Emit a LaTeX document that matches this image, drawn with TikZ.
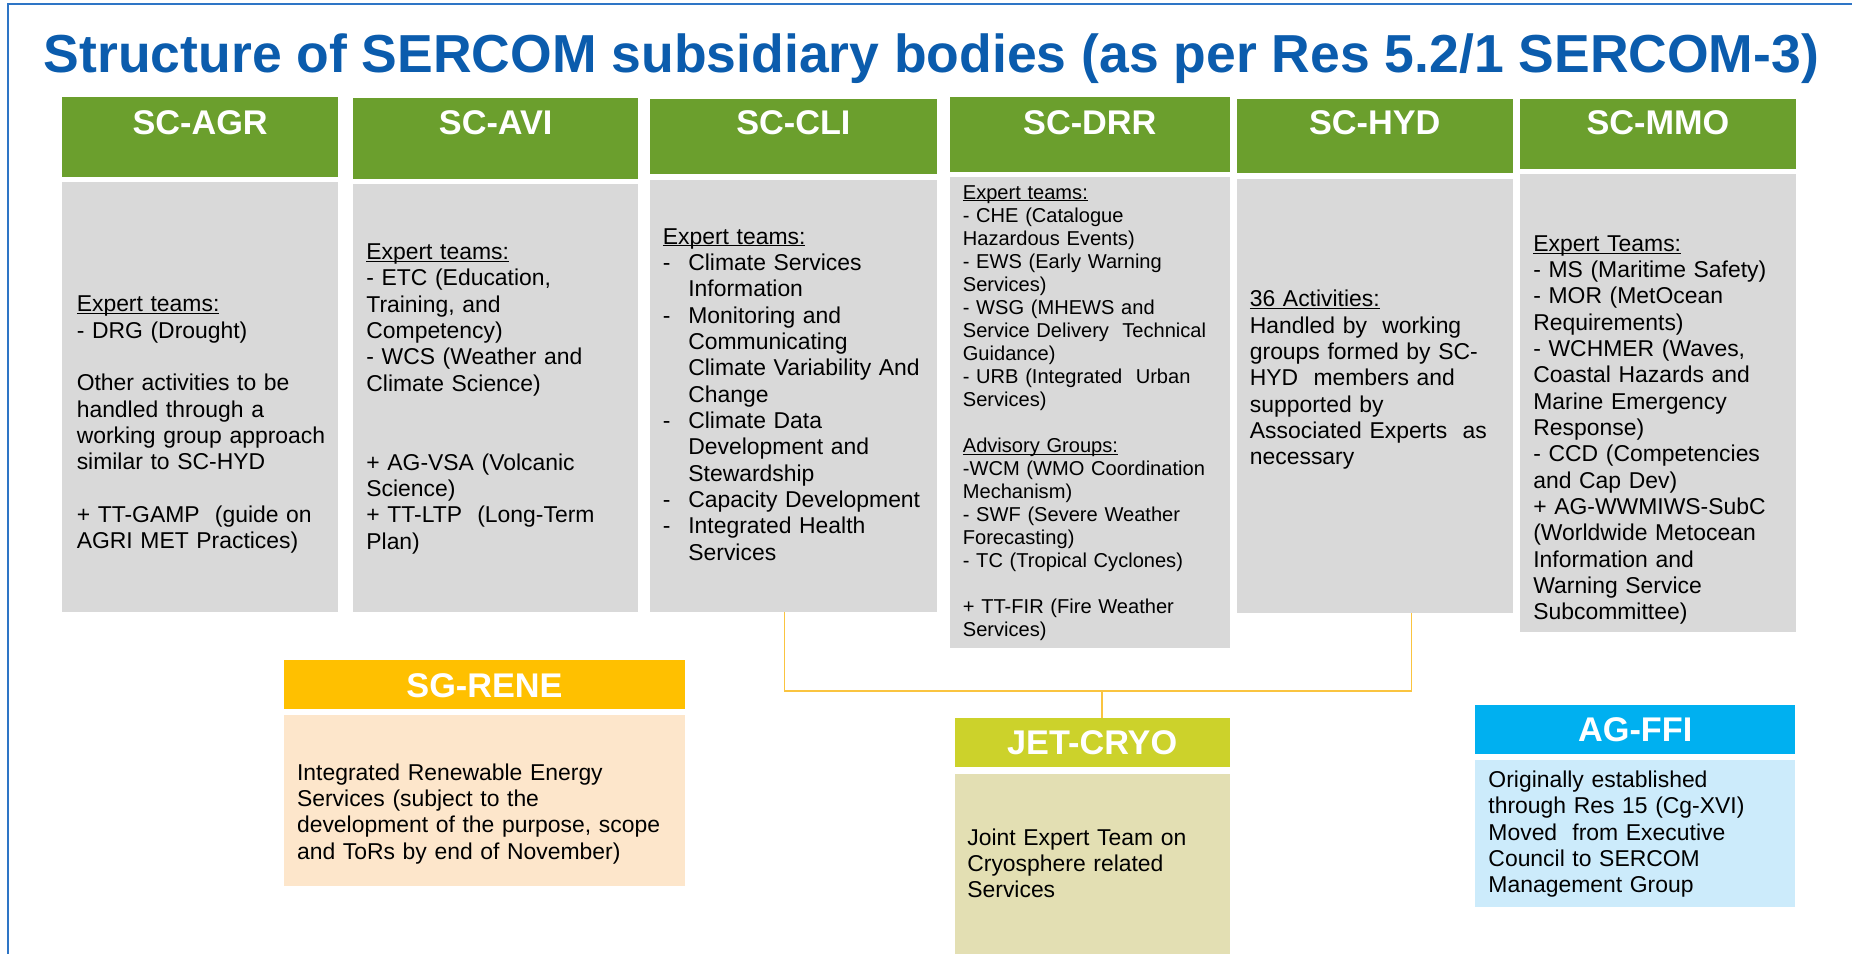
\documentclass[tikz,border=0pt]{standalone}
\usepackage{fontspec}
\setmainfont{Liberation Sans}
\definecolor{titleblue}{RGB}{11,92,173}
\definecolor{frameblue}{RGB}{46,117,198}
\definecolor{scgreen}{RGB}{107,159,45}
\definecolor{bodygrey}{RGB}{217,217,217}
\definecolor{renehead}{RGB}{255,192,0}
\definecolor{renebody}{RGB}{253,230,203}
\definecolor{cryohead}{RGB}{204,210,43}
\definecolor{cryobody}{RGB}{227,223,179}
\definecolor{ffihead}{RGB}{0,176,240}
\definecolor{ffibody}{RGB}{204,235,251}
\definecolor{connline}{RGB}{250,196,64}
\newcommand\ulx[1]{\underline{\smash{#1}}}
\newcommand\dashitem{\makebox[21.6pt][l]{-}}
\newcommand\cont{\hspace*{21.6pt}}
\tikzset{
  hdr/.style={anchor=north west, inner sep=0pt, text=white, font=\bfseries\fontsize{29}{29}\selectfont},
  bodybox/.style={anchor=north west, inner sep=0pt, fill=bodygrey},
  txt/.style={anchor=base west, inner sep=0pt, align=left, text width=420pt, font=\fontsize{19.4}{22.3}\selectfont},
  smalltxt/.style={txt, font=\fontsize{17}{19.5}\selectfont},
  conn/.style={draw=connline, line width=1.3pt}
}
\begin{document}
\begin{tikzpicture}[x=1pt,y=-1pt]
\useasboundingbox (0,0) rectangle (1568,807);
\fill[white] (0,0) rectangle (1568,807);
% frame
\draw[frameblue, line width=1.7pt] (6.8,810) -- (6.8,3.4) -- (1575,3.4);
% title
\node[anchor=base west, inner sep=0pt, text=titleblue, font=\bfseries\fontsize{45.3}{45.3}\selectfont] (title) at (37,61) {Structure of SERCOM subsidiary bodies (as per Res 5.2/1 SERCOM-3)};

% headers
\node[hdr, fill=scgreen, minimum width=233.5pt, text height=32pt, text depth=36pt] (agrH) at (52.5,82) {SC-AGR};
\node[hdr, fill=scgreen, minimum width=241pt, text height=31pt, text depth=37pt] (aviH) at (299,83) {SC-AVI};
\node[hdr, fill=scgreen, minimum width=243pt, text height=30pt, text depth=33pt] (cliH) at (550,84) {SC-CLI};
\node[hdr, fill=scgreen, minimum width=237pt, text height=32pt, text depth=31pt] (drrH) at (804,82) {SC-DRR};
\node[hdr, fill=scgreen, minimum width=233.5pt, text height=30pt, text depth=32pt] (hydH) at (1047,84) {SC-HYD};
\node[hdr, fill=scgreen, minimum width=233pt, text height=30pt, text depth=29pt] (mmoH) at (1287,84) {SC-MMO};

% bodies
\node[bodybox, minimum width=233.5pt, minimum height=364pt] (agrB) at (52.5,154) {};
\node[bodybox, minimum width=241pt, minimum height=362pt] (aviB) at (299,156) {};
\node[bodybox, minimum width=243pt, minimum height=366pt] (cliB) at (550,152) {};
\node[bodybox, minimum width=237pt, minimum height=398pt] (drrB) at (804,150) {};
\node[bodybox, minimum width=233.5pt, minimum height=368pt] (hydB) at (1047,151) {};
\node[bodybox, minimum width=233pt, minimum height=388pt] (mmoB) at (1287,147) {};

% body texts
\node[txt] (agrT) at (64.8,264) {\ulx{Expert teams:}\\
- DRG (Drought)\\[22.3pt]
Other activities to be\\
handled through a\\
working group approach\\
similar to SC-HYD\\[22.3pt]
+ TT-GAMP \ (guide on\\
AGRI MET Practices)};

\node[txt] (aviT) at (310,219.6) {\ulx{Expert teams:}\\
- ETC (Education,\\
Training, and\\
Competency)\\
- WCS (Weather and\\
Climate Science)\\[44.6pt]
+ AG-VSA (Volcanic\\
Science)\\
+ TT-LTP \ (Long-Term\\
Plan)};

\node[txt] (cliT) at (561,206.6) {\ulx{Expert teams:}\\
\dashitem Climate Services\\
\cont Information\\
\dashitem Monitoring and\\
\cont Communicating\\
\cont Climate Variability And\\
\cont Change\\
\dashitem Climate Data\\
\cont Development and\\
\cont Stewardship\\
\dashitem Capacity Development\\
\dashitem Integrated Health\\
\cont Services};

\node[smalltxt] (drrT) at (815,168.5) {\ulx{Expert teams:}\\
- CHE (Catalogue\\
Hazardous Events)\\
- EWS (Early Warning\\
Services)\\
- WSG (MHEWS and\\
Service Delivery \ Technical\\
Guidance)\\
- URB (Integrated \ Urban\\
Services)\\[19.5pt]
\ulx{Advisory Groups:}\\
-WCM (WMO Coordination\\
Mechanism)\\
- SWF (Severe Weather\\
Forecasting)\\
- TC (Tropical Cyclones)\\[19.5pt]
+ TT-FIR (Fire Weather\\
Services)};

\node[txt] (hydT) at (1058,259.7) {\ulx{36 Activities:}\\
Handled by \ working\\
groups formed by SC-\\
HYD \ members and\\
supported by\\
Associated Experts \ as\\
necessary};

\node[txt] (mmoT) at (1298,212.6) {\ulx{Expert Teams:}\\
- MS (Maritime Safety)\\
- MOR (MetOcean\\
Requirements)\\
- WCHMER (Waves,\\
Coastal Hazards and\\
Marine Emergency\\
Response)\\
- CCD (Competencies\\
and Cap Dev)\\
+ AG-WWMIWS-SubC\\
(Worldwide Metocean\\
Information and\\
Warning Service\\
Subcommittee)};

% lower groups
\node[hdr, fill=renehead, minimum width=340pt, text height=31pt, text depth=10pt] (reneH) at (240,559) {SG-RENE};
\node[bodybox, fill=renebody, minimum width=340pt, minimum height=145pt] (reneB) at (240,605) {};
\node[txt] (reneT) at (251.3,660.5) {Integrated Renewable Energy\\
Services (subject to the\\
development of the purpose, scope\\
and ToRs by end of November)};

\node[hdr, fill=cryohead, minimum width=233pt, text height=31pt, text depth=10pt] (cryoH) at (808,608) {JET-CRYO};
\node[bodybox, fill=cryobody, minimum width=233pt, minimum height=165pt] (cryoB) at (808,655) {};
\node[txt] (cryoT) at (818.8,715.5) {Joint Expert Team on\\
Cryosphere related\\
Services};

\node[hdr, fill=ffihead, minimum width=270.5pt, text height=31pt, text depth=10pt] (ffiH) at (1249,597) {AG-FFI};
\node[bodybox, fill=ffibody, minimum width=270.5pt, minimum height=125pt] (ffiB) at (1249,643) {};
\node[txt] (ffiT) at (1260,666.7) {Originally established\\
through Res 15 (Cg-XVI)\\
Moved \ from Executive\\
Council to SERCOM\\
Management Group};

% connectors
\coordinate (cliFoot) at (664,518);
\coordinate (hydFoot) at (1195,519);
\coordinate (hub) at (933,585);
\draw[conn] (cliFoot) |- (hub) -| (hydFoot);
\draw[conn] (hub) -- (hub |- cryoH.north);
\end{tikzpicture}
\end{document}
